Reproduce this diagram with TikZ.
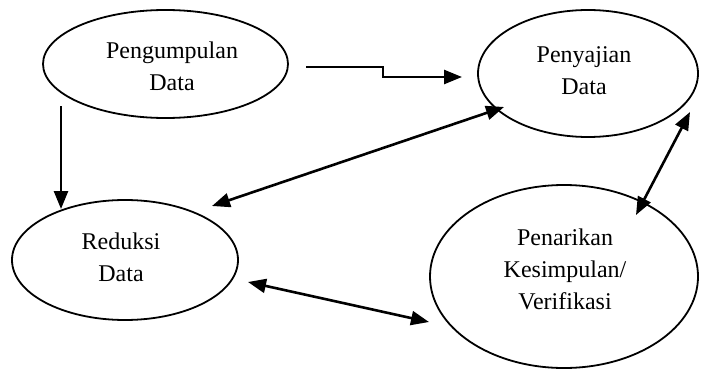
\documentclass[tikz,border=0pt]{standalone}
\usepackage{fontspec}
\setmainfont{Liberation Serif}
\usetikzlibrary{shapes.geometric,arrows.meta}
\begin{document}
\begin{tikzpicture}[x=0.5pt,y=-0.5pt,
  oval/.style={draw, ellipse, line width=0.9pt, inner sep=0pt},
  lbl/.style={align=center, font=\fontsize{12}{16}\selectfont, inner sep=0pt},
  arr/.style={line width=1.3pt, -{Triangle[length=9pt,width=7pt]}},
  dbl/.style={line width=1.3pt, {Triangle[length=9pt,width=7pt]}-{Triangle[length=9pt,width=7pt]}}]
\useasboundingbox (0,0) rectangle (705,369);

% ellipses
\node[oval, minimum width=122.5pt, minimum height=54pt] (kumpul) at (165.5,64) {};
\node[oval, minimum width=110pt, minimum height=63.5pt] (saji) at (588,73.5) {};
\node[oval, minimum width=113pt, minimum height=60pt] (reduksi) at (125,260) {};
\node[oval, minimum width=134pt, minimum height=91.5pt] (tarik) at (564,276.5) {};

% labels
\node[lbl] (kumpult) at (172,66.5) {Pengumpulan\\Data};
\node[lbl] (sajit) at (584,71) {Penyajian\\Data};
\node[lbl] (reduksit) at (121,257.5) {Reduksi\\Data};
\node[lbl] (tarikt) at (565,269.5) {Penarikan\\Kesimpulan/\\Verifikasi};

% connector ends
\coordinate (k1) at (306,67);
\coordinate (s1) at (462,77);
\coordinate (k2) at (61,106);
\coordinate (r1) at (61,209);
\coordinate (r2) at (212,206);
\coordinate (s2) at (504,107);
\coordinate (s3) at (690,112);
\coordinate (t1) at (636,215);
\coordinate (r3) at (248,282);
\coordinate (t2) at (429,322);

% connectors
\draw[arr] (k1) -- ++(77,0) |- (s1);
\draw[arr] (k2) -- (r1);
\draw[dbl] (r2) -- (s2);
\draw[dbl] (s3) -- (t1);
\draw[dbl] (r3) -- (t2);
\end{tikzpicture}
\end{document}
